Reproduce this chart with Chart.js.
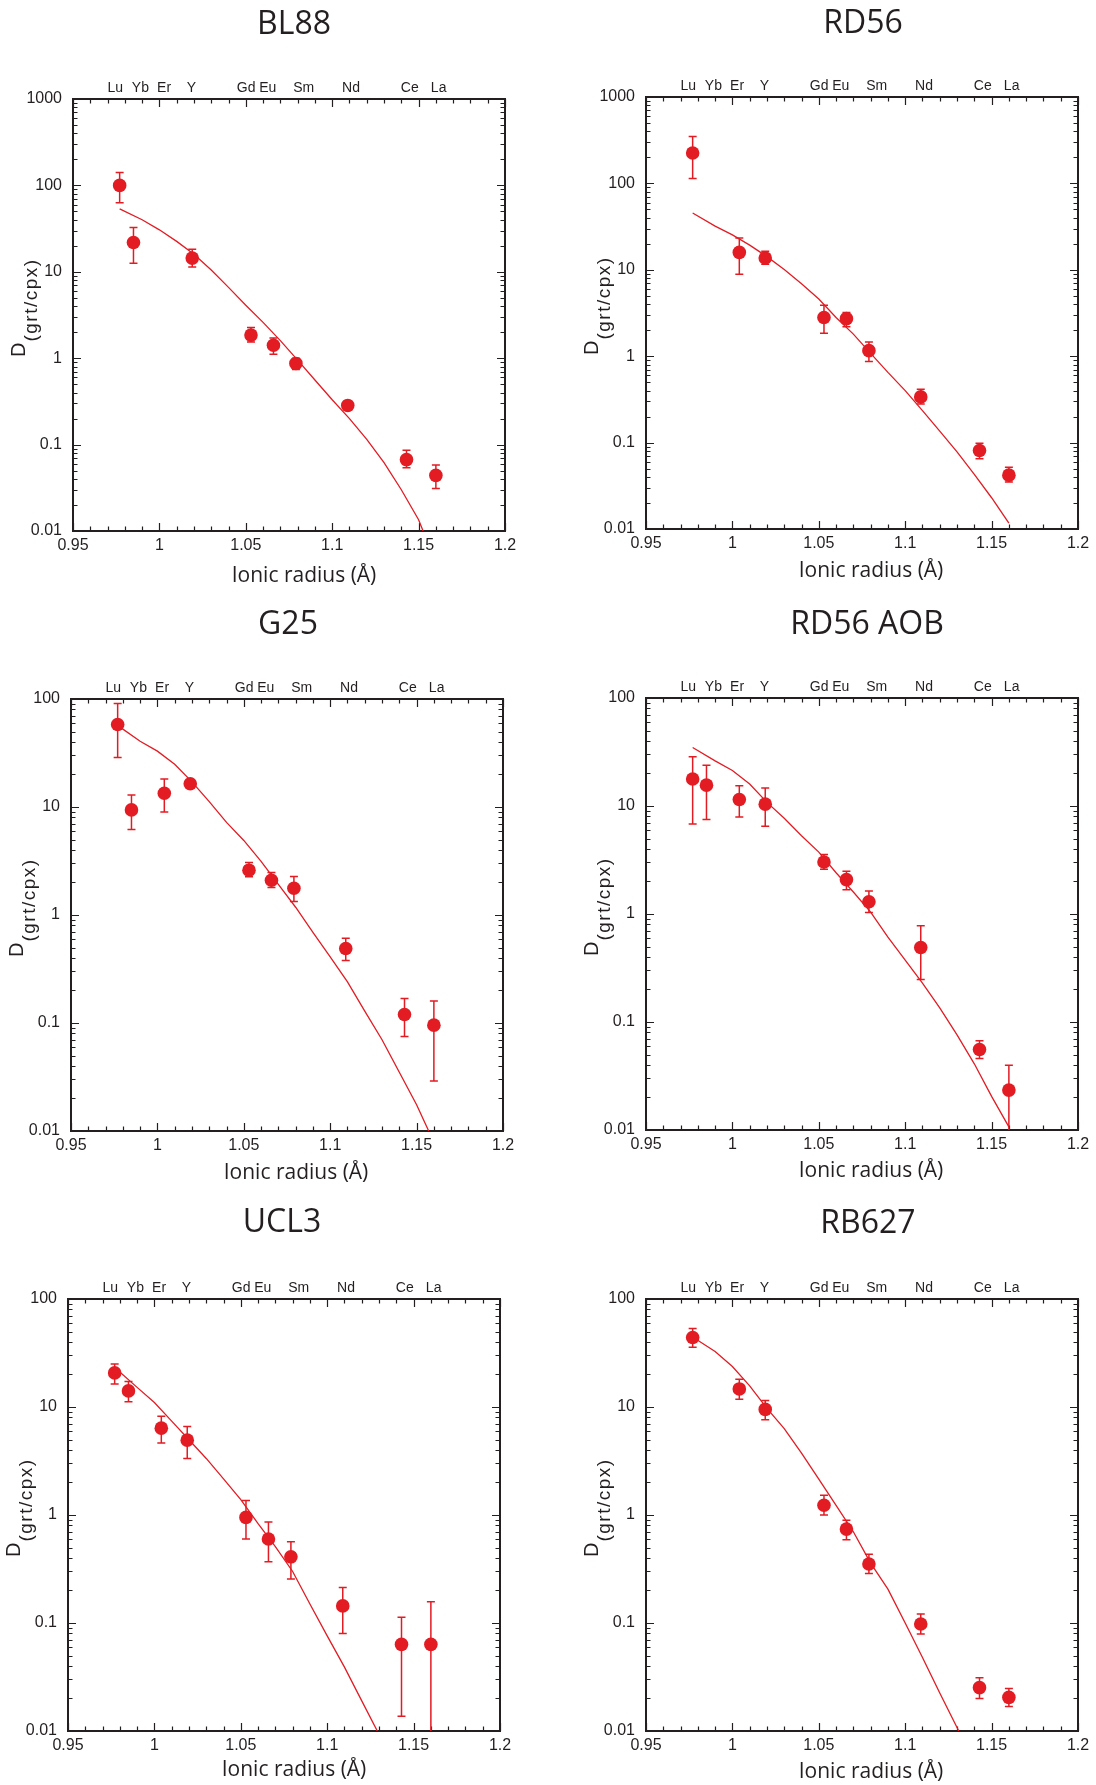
<!DOCTYPE html>
<html>
<head>
<meta charset="utf-8">
<script src="https://cdn.jsdelivr.net/npm/chart.js@4.4.1/dist/chart.umd.min.js"></script>
<style>
  html, body { margin: 0; padding: 0; background: #fff; }
  body { width: 1096px; height: 1785px; position: relative; overflow: hidden; }
  canvas { position: absolute; }
</style>
</head>
<body>
<canvas id="c1"></canvas>
<canvas id="c2"></canvas>
<canvas id="c3"></canvas>
<canvas id="c4"></canvas>
<canvas id="c5"></canvas>
<canvas id="c6"></canvas>
<script>
// elements and their ionic radii (A)
var elements = ["Lu", "Yb", "Er", "Y", "Gd", "Eu", "Sm", "Nd", "Ce", "La"];
var ionicRadius = [0.977, 0.985, 1.004, 1.019, 1.053, 1.066, 1.079, 1.109, 1.143, 1.160];
// where the element names sit on the top axis
var labelPos = [0.9744, 0.989, 1.0027, 1.0185, 1.0502, 1.0627, 1.0835, 1.1109, 1.1449, 1.1616];

var xTickValues = [0.95, 1, 1.05, 1.1, 1.15, 1.2];
var xTickLabels = ["0.95", "1", "1.05", "1.1", "1.15", "1.2"];
var yTicks1000 = [0.01, 0.1, 1, 10, 100, 1000];
var yLabels1000 = ["0.01", "0.1", "1", "10", "100", "1000"];
var yTicks100 = [0.01, 0.1, 1, 10, 100];
var yLabels100 = ["0.01", "0.1", "1", "10", "100"];

// BL88
var bl88D  = [100, 21.8, null, 14.4, 1.85, 1.41, 0.87, 0.284, 0.067, 0.044];
var bl88Hi = [141, 32.5, null, 18.2, 2.27, 1.71, 1.0, 0.31, 0.086, 0.058];
var bl88Lo = [63, 12.6, null, 11.4, 1.54, 1.11, 0.74, 0.26, 0.054, 0.031];
var bl88FitX = [0.977, 0.99, 1.00, 1.01, 1.02, 1.03, 1.04, 1.05, 1.06, 1.07, 1.08, 1.09, 1.10, 1.11, 1.12, 1.13, 1.14, 1.15, 1.1526];
var bl88FitY = [53.6, 40, 30.6, 22.5, 16, 10.5, 6.6, 4.1, 2.6, 1.6, 0.95, 0.56, 0.33, 0.2, 0.115, 0.062, 0.03, 0.0135, 0.01];

// RD56
var rd56D  = [225, null, 15.9, 13.7, 2.8, 2.72, 1.16, 0.338, 0.081, 0.042];
var rd56Hi = [349, null, 23.4, 16.4, 3.9, 3.2, 1.46, 0.415, 0.098, 0.052];
var rd56Lo = [114, null, 8.9, 11.6, 1.84, 2.19, 0.87, 0.279, 0.065, 0.035];
var rd56FitX = [0.977, 0.99, 1.00, 1.01, 1.02, 1.03, 1.04, 1.05, 1.06, 1.07, 1.08, 1.09, 1.10, 1.11, 1.12, 1.13, 1.14, 1.15, 1.16];
var rd56FitY = [45.4, 32, 25.4, 19.3, 14.2, 10.1, 6.9, 4.6, 2.8, 1.8, 1.08, 0.65, 0.40, 0.234, 0.136, 0.078, 0.043, 0.023, 0.0117];

// G25
var g25D  = [58, 9.4, 13.4, 16.4, 2.6, 2.1, 1.77, 0.49, 0.12, 0.0955];
var g25Hi = [91, 12.9, 18.2, 17.5, 3.07, 2.48, 2.27, 0.61, 0.169, 0.16];
var g25Lo = [28.8, 6.2, 9.0, 15, 2.26, 1.8, 1.33, 0.38, 0.075, 0.029];
var g25FitX = [0.979, 0.99, 1.00, 1.01, 1.02, 1.03, 1.04, 1.05, 1.06, 1.07, 1.08, 1.09, 1.10, 1.11, 1.12, 1.13, 1.14, 1.15, 1.157];
var g25FitY = [54, 40.6, 32.9, 24.9, 17.1, 11.2, 7.2, 4.9, 3.14, 1.92, 1.18, 0.69, 0.41, 0.24, 0.129, 0.070, 0.035, 0.0175, 0.01];

// RD56 AOB
var aobD  = [17.8, 15.6, 11.5, 10.4, 3.03, 2.08, 1.30, 0.49, 0.0556, 0.0234];
var aobHi = [28.6, 23.9, 15.4, 14.7, 3.56, 2.49, 1.63, 0.78, 0.067, 0.0398];
var aobLo = [6.8, 7.5, 7.9, 6.5, 2.59, 1.68, 1.03, 0.248, 0.046, 0.01];
var aobFitX = [0.977, 0.99, 1.00, 1.01, 1.02, 1.03, 1.04, 1.05, 1.06, 1.07, 1.08, 1.09, 1.10, 1.11, 1.12, 1.13, 1.14, 1.15, 1.16];
var aobFitY = [34.8, 26.2, 21.3, 16, 10.8, 7.7, 5.3, 3.74, 2.41, 1.6, 1.04, 0.61, 0.374, 0.229, 0.135, 0.076, 0.041, 0.0205, 0.0107];

// UCL3
var uclD  = [20.7, 14.1, 6.37, 4.93, 0.95, 0.60, 0.41, 0.144, 0.0634, 0.0634];
var uclHi = [25, 17.2, 8.2, 6.6, 1.36, 0.86, 0.566, 0.213, 0.113, 0.157];
var uclLo = [16.3, 11.2, 4.63, 3.34, 0.60, 0.37, 0.255, 0.080, 0.0137, 0.01];
var uclFitX = [0.979, 0.99, 1.00, 1.01, 1.02, 1.03, 1.04, 1.05, 1.06, 1.07, 1.08, 1.09, 1.10, 1.11, 1.12, 1.129];
var uclFitY = [21.8, 15.2, 11.0, 7.4, 4.97, 3.34, 2.16, 1.39, 0.83, 0.51, 0.30, 0.15, 0.076, 0.039, 0.019, 0.01];

// RB627
var rbD  = [44, null, 14.7, 9.5, 1.23, 0.74, 0.352, 0.098, 0.0252, 0.0205];
var rbHi = [53.3, null, 18.1, 11.5, 1.52, 0.895, 0.433, 0.121, 0.0312, 0.0248];
var rbLo = [35.8, null, 11.8, 7.6, 1.0, 0.59, 0.287, 0.079, 0.020, 0.0169];
var rbFitX = [0.979, 0.99, 1.00, 1.01, 1.02, 1.03, 1.04, 1.05, 1.06, 1.07, 1.08, 1.09, 1.10, 1.11, 1.12, 1.131];
var rbFitY = [42.4, 32.6, 23.7, 15.7, 9.7, 6.3, 3.74, 2.15, 1.23, 0.70, 0.358, 0.206, 0.100, 0.048, 0.0225, 0.01];

var RED = "#e31b23";
var INK = "#231f20";
var TICK_FONT = "Liberation Sans";
var TITLE_FONT = "Open Sans";

// fixed sizes for the axis boxes so the plot area lands where it should
var Y_AXIS_W = 60;
var X_AXIS_H = 30;
var TOP_AXIS_H = 25;

var panels = [
  { id: "c1", title: "BL88", d: bl88D, hi: bl88Hi, lo: bl88Lo, fx: bl88FitX, fy: bl88FitY, yt: yTicks1000, yl: yLabels1000,
    box: { x: 0, y: 0, w: 548, h: 598 }, area: { l: 73, t: 99, r: 505, b: 531 }, tx: 294, ty: 25, xx: 304, xy: 576 },
  { id: "c2", title: "RD56", d: rd56D, hi: rd56Hi, lo: rd56Lo, fx: rd56FitX, fy: rd56FitY, yt: yTicks1000, yl: yLabels1000,
    box: { x: 548, y: 0, w: 548, h: 598 }, area: { l: 646, t: 97, r: 1078, b: 529 }, tx: 863, ty: 24, xx: 871, xy: 571 },
  { id: "c3", title: "G25", d: g25D, hi: g25Hi, lo: g25Lo, fx: g25FitX, fy: g25FitY, yt: yTicks100, yl: yLabels100,
    box: { x: 0, y: 598, w: 548, h: 598 }, area: { l: 71, t: 699, r: 503, b: 1131 }, tx: 288, ty: 625, xx: 296, xy: 1173 },
  { id: "c4", title: "RD56 AOB", d: aobD, hi: aobHi, lo: aobLo, fx: aobFitX, fy: aobFitY, yt: yTicks100, yl: yLabels100,
    box: { x: 548, y: 598, w: 548, h: 598 }, area: { l: 646, t: 698, r: 1078, b: 1130 }, tx: 867, ty: 625, xx: 871, xy: 1171 },
  { id: "c5", title: "UCL3", d: uclD, hi: uclHi, lo: uclLo, fx: uclFitX, fy: uclFitY, yt: yTicks100, yl: yLabels100,
    box: { x: 0, y: 1196, w: 548, h: 589 }, area: { l: 68, t: 1299, r: 500, b: 1731 }, tx: 282, ty: 1223, xx: 294, xy: 1770 },
  { id: "c6", title: "RB627", d: rbD, hi: rbHi, lo: rbLo, fx: rbFitX, fy: rbFitY, yt: yTicks100, yl: yLabels100,
    box: { x: 548, y: 1196, w: 548, h: 589 }, area: { l: 646, t: 1299, r: 1078, b: 1731 }, tx: 868, ty: 1224, xx: 871, xy: 1772 }
];

// frame, inward ticks, error bars, titles
var decor = {
  id: "decor",
  beforeDatasetsDraw: function (chart) {
    var ctx = chart.ctx, a = chart.chartArea;
    var xs = chart.scales.x, ys = chart.scales.y;
    ctx.save();
    ctx.strokeStyle = INK;
    ctx.lineWidth = 1.2;
    ctx.beginPath();
    for (var i = 0; i <= 25; i++) {
      var px = Math.round(xs.getPixelForValue(0.95 + i * 0.01)) + 0.5;
      var len = i % 5 === 0 ? 8 : 4.5;
      ctx.moveTo(px, a.bottom); ctx.lineTo(px, a.bottom - len);
      ctx.moveTo(px, a.top); ctx.lineTo(px, a.top + len);
    }
    for (var d = ys.min; d < ys.max * 0.999; d *= 10) {
      for (var k = 1; k <= 9; k++) {
        var py = Math.round(ys.getPixelForValue(d * k)) + 0.5;
        var l2 = k === 1 ? 8 : 4.5;
        ctx.moveTo(a.left, py); ctx.lineTo(a.left + l2, py);
        ctx.moveTo(a.right, py); ctx.lineTo(a.right - l2, py);
      }
    }
    ctx.stroke();
    ctx.lineWidth = 2;
    ctx.strokeRect(a.left, a.top, a.right - a.left, a.bottom - a.top);

    // error bars
    var pts = chart.data.datasets[1].data;
    ctx.strokeStyle = RED;
    ctx.lineWidth = 1.5;
    ctx.beginPath();
    pts.forEach(function (p) {
      var x = xs.getPixelForValue(p.x);
      var yh = ys.getPixelForValue(p.hi);
      var yl = ys.getPixelForValue(Math.max(p.lo, ys.min));
      ctx.moveTo(x, yh); ctx.lineTo(x, yl);
      ctx.moveTo(x - 4, yh); ctx.lineTo(x + 4, yh);
      if (p.lo > ys.min) { ctx.moveTo(x - 4, yl); ctx.lineTo(x + 4, yl); }
    });
    ctx.stroke();
    ctx.restore();
  },
  afterDraw: function (chart, args, opts) {
    var p = opts.panel, ctx = chart.ctx, a = chart.chartArea;
    ctx.save();
    ctx.fillStyle = INK;
    ctx.textAlign = "center";
    ctx.textBaseline = "middle";
    ctx.font = "32px '" + TITLE_FONT + "'";
    ctx.fillText(p.title, p.tx - p.box.x, p.ty - p.box.y);
    ctx.font = "21px '" + TITLE_FONT + "'";
    ctx.fillText("Ionic radius (\u00C5)", p.xx - p.box.x, p.xy - p.box.y);

    // y title: D with subscript (grt/cpx)
    var cy = (a.top + a.bottom) / 2;
    ctx.translate(a.left - 48, cy + 42);
    ctx.rotate(-Math.PI / 2);
    ctx.textAlign = "left";
    ctx.textBaseline = "alphabetic";
    ctx.font = "20px '" + TICK_FONT + "'";
    ctx.fillText("D", 0, 0);
    var w = ctx.measureText("D").width;
    ctx.font = "19px '" + TICK_FONT + "'";
    ctx.letterSpacing = "1.5px";
    ctx.fillText("(grt/cpx)", w + 1, 11.5);
    ctx.restore();
  }
};

function makeChart(p) {
  var cv = document.getElementById(p.id);
  cv.width = p.box.w;
  cv.height = p.box.h;
  cv.style.left = p.box.x + "px";
  cv.style.top = p.box.y + "px";

  var pts = [];
  ionicRadius.forEach(function (r, i) {
    if (p.d[i] !== null) pts.push({ x: r, y: p.d[i], hi: p.hi[i], lo: p.lo[i] });
  });
  var fit = p.fx.map(function (x, i) { return { x: x, y: p.fy[i] }; });

  var tickFont = { family: TICK_FONT, size: 16 };
  var noGrid = { display: false, drawTicks: false };
  new Chart(cv, {
    type: "scatter",
    data: {
      datasets: [
        { data: fit, showLine: true, pointRadius: 0, borderColor: RED, borderWidth: 1.3, fill: false, order: 1 },
        { data: pts, pointRadius: 6.8, pointHoverRadius: 6.8, backgroundColor: RED, borderWidth: 0, order: 0 }
      ]
    },
    options: {
      responsive: false,
      animation: false,
      events: [],
      layout: {
        padding: {
          left: p.area.l - p.box.x - Y_AXIS_W,
          top: p.area.t - p.box.y - TOP_AXIS_H,
          right: p.box.x + p.box.w - p.area.r,
          bottom: p.box.y + p.box.h - p.area.b - X_AXIS_H
        }
      },
      plugins: {
        legend: { display: false },
        tooltip: { enabled: false },
        decor: { panel: p }
      },
      scales: {
        x: {
          type: "linear", position: "bottom", min: 0.95, max: 1.2,
          grid: noGrid, border: { display: false },
          afterBuildTicks: function (s) { s.ticks = xTickValues.map(function (v) { return { value: v }; }); },
          afterFit: function (s) { s.height = X_AXIS_H; },
          ticks: { autoSkip: false, maxRotation: 0, padding: 5, color: INK, font: tickFont,
            callback: function (v, i) { return xTickLabels[i]; } }
        },
        xt: {
          type: "linear", position: "top", min: 0.95, max: 1.2,
          grid: noGrid, border: { display: false },
          afterBuildTicks: function (s) { s.ticks = labelPos.map(function (v) { return { value: v }; }); },
          afterFit: function (s) { s.height = TOP_AXIS_H; },
          ticks: { autoSkip: false, maxRotation: 0, padding: 2, color: INK, font: { family: TICK_FONT, size: 14 },
            callback: function (v, i) { return elements[i]; } }
        },
        y: {
          type: "logarithmic", position: "left", min: 0.01, max: p.yt[p.yt.length - 1],
          grid: noGrid, border: { display: false },
          afterBuildTicks: function (s) { s.ticks = p.yt.map(function (v) { return { value: v }; }); },
          afterFit: function (s) { s.width = Y_AXIS_W; },
          ticks: { autoSkip: false, padding: 11, color: INK, font: tickFont,
            callback: function (v, i) { return p.yl[i]; } }
        }
      }
    },
    plugins: [decor]
  });
}

panels.forEach(makeChart);
</script>
</body>
</html>
